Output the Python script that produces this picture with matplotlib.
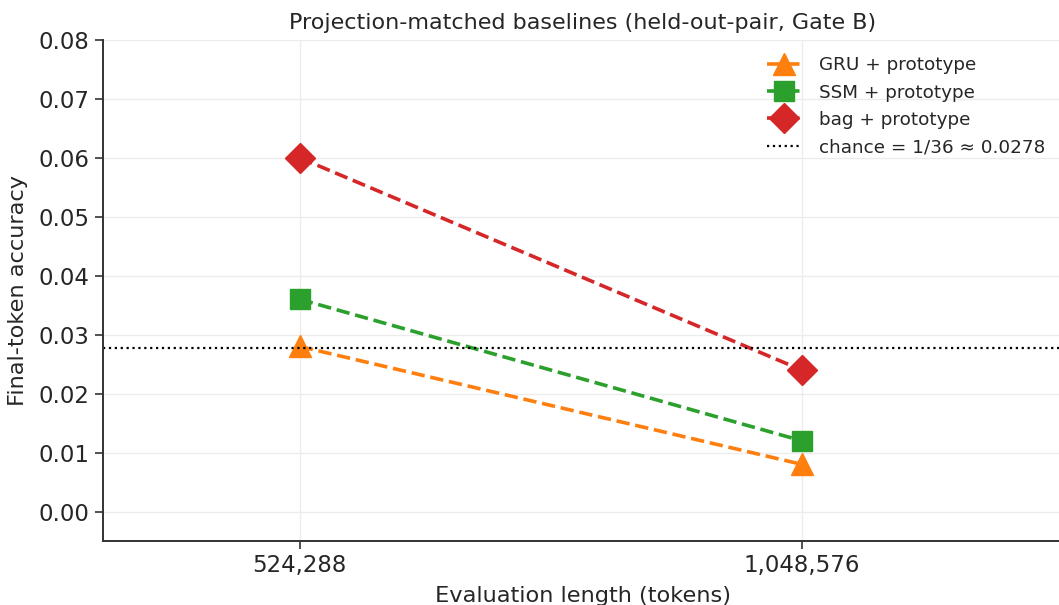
import numpy as np
import matplotlib
matplotlib.use("Agg")
import matplotlib.pyplot as plt

# data
lengths = [524288, 1048576]
length_labels = ["524,288", "1,048,576"]
gru_acc = [0.028, 0.008]
ssm_acc = [0.036, 0.012]
bag_acc = [0.060, 0.024]
chance = 1 / 36

fig = plt.figure(figsize=(10.59, 6.05), dpi=100)
ax = fig.add_axes([103 / 1059, 64 / 605, 960 / 1059, 501 / 605])

xpos = np.arange(len(lengths))

ax.plot(xpos, gru_acc, ls="--", lw=2.6, color="#ff7f0e", marker="^", markersize=16,
        label="GRU + prototype")
ax.plot(xpos, ssm_acc, ls="--", lw=2.6, color="#2ca02c", marker="s", markersize=15,
        label="SSM + prototype")
ax.plot(xpos, bag_acc, ls="--", lw=2.6, color="#d62728", marker="D", markersize=15,
        label="bag + prototype")
ax.axhline(chance, color="black", ls=":", lw=1.6, label="chance = 1/36 ≈ 0.0278")

ax.set_xlim(-0.392, 1.52)
ax.set_ylim(-0.005, 0.08)
ax.set_xticks(xpos)
ax.set_xticklabels(length_labels)
ax.set_yticks(np.arange(0, 0.081, 0.01))
ax.set_yticklabels([f"{v:.2f}" for v in np.arange(0, 0.081, 0.01)])

ax.grid(True, color="#ececec", lw=1)
ax.set_axisbelow(True)
for side in ["top", "right"]:
    ax.spines[side].set_visible(False)
for side in ["left", "bottom"]:
    ax.spines[side].set_color("#333333")
    ax.spines[side].set_linewidth(1.4)
ax.tick_params(axis="both", labelsize=16.5, colors="#333333", labelcolor="#262626",
               length=6, width=1.2)

ax.set_xlabel("Evaluation length (tokens)", fontsize=16.2, color="#262626", labelpad=6)
ax.set_ylabel("Final-token accuracy", fontsize=16.2, color="#262626", labelpad=8)
ax.set_title("Projection-matched baselines (held-out-pair, Gate B)", fontsize=16,
             color="#262626", pad=8)

leg = ax.legend(loc="upper right", bbox_to_anchor=(0.999, 1.0), frameon=False,
                fontsize=13.2, handlelength=1.85, handletextpad=1.0, labelspacing=0.5)
for t in leg.get_texts():
    t.set_color("#262626")

fig.savefig("out.png", dpi=100)
